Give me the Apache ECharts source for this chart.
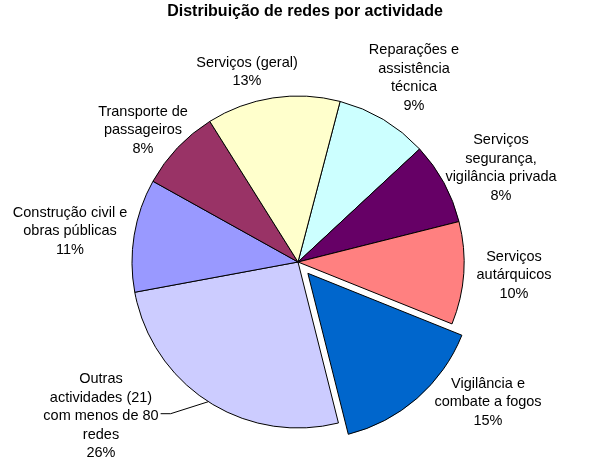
<!DOCTYPE html>
<html><head><meta charset="utf-8">
<script src="https://cdn.jsdelivr.net/npm/echarts@6/dist/echarts.min.js"></script>
<style>html,body{margin:0;padding:0;background:#fff}#c{width:616px;height:466px}</style>
</head><body><div id="c"></div>
<script>
// ---- data ----
const titleText = 'Distribuição de redes por actividade';
const categories = [
  'Reparações e\nassistência\ntécnica',
  'Serviços\nsegurança,\nvigilância privada',
  'Serviços\nautárquicos',
  'Vigilância e\ncombate a fogos',
  'Outras\nactividades (21)\ncom menos de 80\nredes',
  'Construção civil e\nobras públicas',
  'Transporte de\npassageiros',
  'Serviços (geral)'
];
const shares = [9, 8, 10, 15, 26, 11, 8, 13];
const colors = ['#CCFFFF', '#660066', '#FF8080', '#0066CC', '#CCCCFF', '#9999FF', '#993366', '#FFFFCC'];
const explodedIndex = 3;
const leaderIndex = 4;

// ---- layout ----
const CX = 298, CY = 262, R = 166, START = 14.7; // start: degrees clockwise from 12 o'clock
const EXPLODE = 15;
const labelCenters = [[414, 78], [501, 168], [514, 275], [488, 402], [101, 416], [70, 231], [143, 130], [247, 72]];
const FONT = '"Liberation Sans", Arial, sans-serif';
const NONE = 'rgba(0,0,0,0)';

const total = shares.reduce((a, b) => a + b, 0);
function midAngle(i) {
  let before = 0;
  for (let k = 0; k < i; k++) before += shares[k];
  return (START + (before + shares[i] / 2) / total * 360) * Math.PI / 180;
}
const ea = midAngle(explodedIndex);
const ECX = CX + EXPLODE * Math.sin(ea), ECY = CY - EXPLODE * Math.cos(ea);

const common = {
  type: 'pie', radius: R, startAngle: 90 - START, clockwise: true,
  selectedMode: false, avoidLabelOverlap: false, emphasis: {disabled: true}, silent: true
};

const chart = echarts.init(document.getElementById('c'), null, {renderer: 'canvas'});
chart.setOption({
  animation: false,
  backgroundColor: '#fff',
  graphic: [{
    type: 'text', x: 305, y: 12,
    style: {text: titleText, font: 'bold 16px ' + FONT, fill: '#000', align: 'center', verticalAlign: 'middle'}
  }],
  series: [Object.assign({}, common, {
    center: [CX, CY],
    itemStyle: {borderColor: '#000', borderWidth: 1},
    label: {
      show: true, position: 'outside',
      formatter: p => p.name + '\n' + p.value + '%',
      fontFamily: FONT, fontSize: 14.5, lineHeight: 18.5, color: '#000', align: 'center'
    },
    labelLine: {show: false},
    labelLayout: function (p) {
      const c = labelCenters[p.dataIndex];
      const out = {x: c[0], y: c[1], align: 'center', verticalAlign: 'middle'};
      if (p.dataIndex === leaderIndex) {
        const a = midAngle(leaderIndex);
        const ex = CX + R * Math.sin(a), ey = CY - R * Math.cos(a);
        const rx = c[0] + p.labelRect.width / 2 + 2;
        out.labelLinePoints = [[ex, ey], [rx + 10, ey + 12], [rx, ey + 12]];
      }
      return out;
    },
    data: categories.map((n, i) => ({
      name: n, value: shares[i],
      itemStyle: i === explodedIndex ? {color: NONE, borderColor: NONE, borderWidth: 0} : {color: colors[i]},
      labelLine: {show: i === leaderIndex, lineStyle: {color: '#000', width: 1}}
    }))
  }), Object.assign({}, common, {
    center: [ECX, ECY],
    label: {show: false},
    labelLine: {show: false},
    data: categories.map((n, i) => ({
      name: n, value: shares[i],
      itemStyle: i === explodedIndex
        ? {color: colors[i], borderColor: '#000', borderWidth: 1}
        : {color: NONE, borderColor: NONE, borderWidth: 0}
    }))
  })]
});
</script>
</body></html>
